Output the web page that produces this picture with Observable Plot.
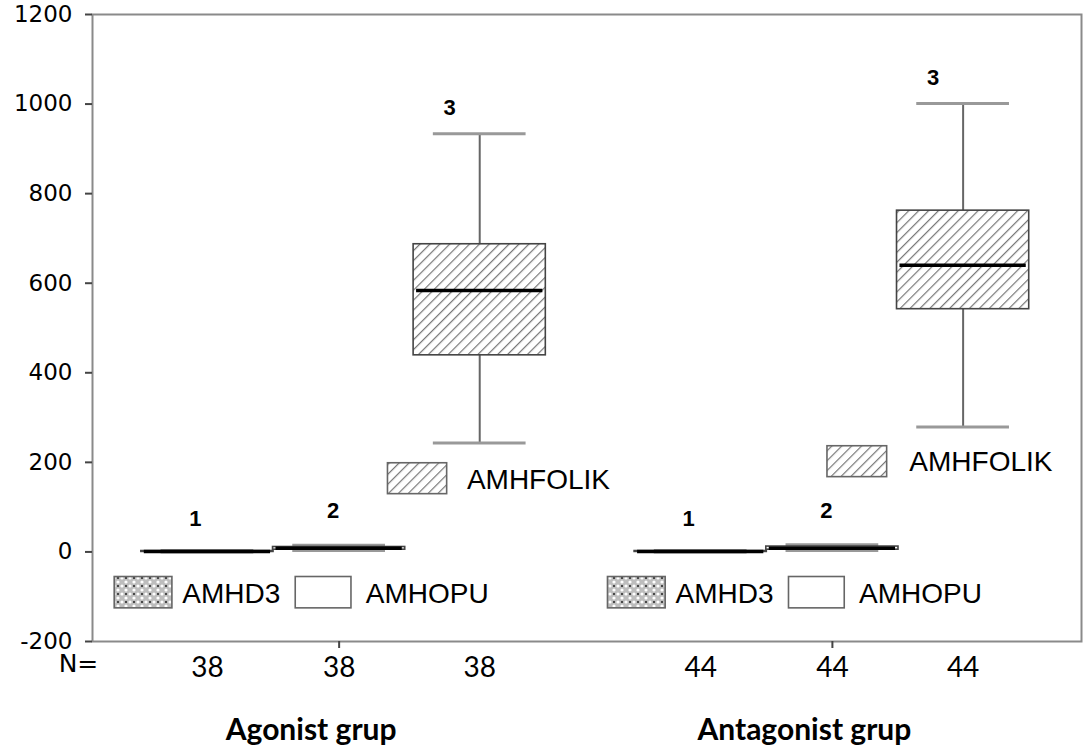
<!DOCTYPE html>
<html>
<head>
<meta charset="utf-8">
<script src="https://cdn.jsdelivr.net/npm/d3@7"></script>
<script src="https://cdn.jsdelivr.net/npm/@observablehq/plot@0.6"></script>
<style>
  html, body { margin: 0; padding: 0; background: #fff; }
  #chart svg { display: block; }
</style>
</head>
<body>
<div id="chart"></div>
<script>
// ---- data ----
const groupNames = ["Agonist grup", "Antagonist grup"];
const seriesNames = ["AMHD3", "AMHOPU", "AMHFOLIK"];
const boxLabels = ["1", "2", "3"];
const nCounts = [38, 44];
// per group: [AMHD3, AMHOPU, AMHFOLIK]
const lowWhisker  = [[0, 3, 243], [0, 3, 279]];
const q1Values    = [[0, 5, 439], [0, 5, 542]];
const medianVals  = [[1, 8, 584], [1, 8, 640]];
const q3Values    = [[2, 11, 687], [2, 12, 762]];
const highWhisker = [[3, 15, 934], [3, 16, 1001]];
const yTicks = [-200, 0, 200, 400, 600, 800, 1000, 1200];

// ---- layout (positions in x-scale units relative to each group centre) ----
const seriesOffset = [[-0.267, 0, 0.285], [-0.267, 0, 0.265]];
const boxHalf = 0.134, capHalf = 0.094;
const labelDx = [-12, -6, -30];
const labelDy = [-32, -34, -26];
const legendLower = [
  {series: "AMHD3", x1: -0.455, x2: -0.338, tx: -0.318},
  {series: "AMHOPU", x1: -0.088, x2: 0.025, tx: 0.054}
];
const legendLowerY = [-56, -126, -95];
const legendFolik = [
  {x1: 0.099, x2: 0.219, tx: 0.259, y1: 198, y2: 129, ty: 160},
  {x1: -0.010, x2: 0.111, tx: 0.156, y1: 236, y2: 167, ty: 201}
];
const fills = {AMHD3: "url(#checker)", AMHOPU: "#ffffff", AMHFOLIK: "url(#hatch)"};

const rows = [];
groupNames.forEach((g, gi) => {
  seriesNames.forEach((s, si) => {
    rows.push({
      group: g, gi, series: s, si, label: boxLabels[si], n: nCounts[gi],
      x: gi + 1 + seriesOffset[gi][si],
      lo: lowWhisker[gi][si], q1: q1Values[gi][si], med: medianVals[gi][si],
      q3: q3Values[gi][si], hi: highWhisker[gi][si]
    });
  });
});

const legendRows = [];
groupNames.forEach((g, gi) => {
  legendLower.forEach(l => legendRows.push({
    series: l.series, x1: gi + 1 + l.x1, x2: gi + 1 + l.x2, tx: gi + 1 + l.tx,
    y1: legendLowerY[0], y2: legendLowerY[1], ty: legendLowerY[2]
  }));
  const f = legendFolik[gi];
  legendRows.push({series: "AMHFOLIK", x1: gi + 1 + f.x1, x2: gi + 1 + f.x2, tx: gi + 1 + f.tx,
    y1: f.y1, y2: f.y2, ty: f.ty});
});

const boxMarks = seriesNames.map(s => Plot.rect(rows.filter(r => r.series === s), {
  x1: r => r.x - boxHalf, x2: r => r.x + boxHalf, y1: "q1", y2: "q3",
  fill: fills[s], stroke: "#444", strokeWidth: 1.6
}));
const legendMarks = seriesNames.map(s => Plot.rect(legendRows.filter(r => r.series === s), {
  x1: "x1", x2: "x2", y1: "y1", y2: "y2", fill: fills[s], stroke: "#666", strokeWidth: 1.6
}));
const labelMarks = seriesNames.map((s, si) => Plot.text(rows.filter(r => r.series === s), {
  x: "x", y: "hi", text: "label", dx: labelDx[si], dy: labelDy[si],
  fontSize: 22, fontWeight: "bold"
}));

const chart = Plot.plot({
  width: 1086,
  height: 753,
  marginLeft: 92,
  marginRight: 5,
  marginTop: 14,
  marginBottom: 112,
  style: {fontFamily: "Liberation Sans, Arial, sans-serif", color: "#000", background: "#fff"},
  x: {domain: [0.5, 2.505], axis: null},
  y: {domain: [-200, 1200], axis: null},
  marks: [
    Plot.frame({stroke: "#8a8a8a", strokeWidth: 2}),
    Plot.axisY({ticks: yTicks, tickFormat: d => String(d), tickSize: 7, tickPadding: 13, fontSize: 23,
      fontFamily: "DejaVu Sans", stroke: "#444", strokeWidth: 2, label: null}),
    Plot.axisX({ticks: [1, 2], tickFormat: () => "", tickSize: 7, stroke: "#444", strokeWidth: 2, label: null}),
    Plot.text(groupNames, {x: (d, i) => i + 1, y: () => -200, text: d => d, dx: -28, dy: 89,
      fontSize: 30, fontWeight: "bold", fontFamily: "Lato"}),
    // whiskers
    Plot.ruleX(rows, {x: "x", y1: "q3", y2: "hi", stroke: "#666", strokeWidth: 2}),
    Plot.ruleX(rows, {x: "x", y1: "lo", y2: "q1", stroke: "#666", strokeWidth: 2}),
    Plot.ruleY(rows, {x1: r => r.x - capHalf, x2: r => r.x + capHalf, y: "hi", stroke: "#999", strokeWidth: 3}),
    Plot.ruleY(rows, {x1: r => r.x - capHalf, x2: r => r.x + capHalf, y: "lo", stroke: "#999", strokeWidth: 3}),
    ...boxMarks,
    Plot.ruleY(rows, {x1: r => r.x - boxHalf + 0.006, x2: r => r.x + boxHalf - 0.006, y: "med", stroke: "#000", strokeWidth: 3.5}),
    // box numbers
    ...labelMarks,
    // N counts
    Plot.text(rows, {x: "x", y: () => -200, text: r => String(r.n), dy: 27, fontSize: 28, fontFamily: "Lato"}),
    Plot.text(["N="], {x: () => 0.5, y: () => -200, text: d => d, dx: -14, dy: 22, fontSize: 25, fontFamily: "DejaVu Sans"}),
    // legends
    ...legendMarks,
    Plot.text(legendRows, {x: "tx", y: "ty", text: "series", textAnchor: "start", fontSize: 28})
  ]
});

// pattern definitions for the fills
const ns = "http://www.w3.org/2000/svg";
const defs = document.createElementNS(ns, "defs");
defs.innerHTML = `
  <pattern id="hatch" patternUnits="userSpaceOnUse" width="7" height="7" patternTransform="rotate(45)">
    <rect width="7" height="7" fill="#fff"/>
    <line x1="0" y1="0" x2="0" y2="7" stroke="#777" stroke-width="2.4"/>
  </pattern>
  <pattern id="checker" patternUnits="userSpaceOnUse" width="8" height="8">
    <rect width="8" height="8" fill="#bdbdbd"/>
    <circle cx="2" cy="2" r="1.6" fill="#fff"/>
    <circle cx="6" cy="6" r="1.6" fill="#fff"/>
    <circle cx="6" cy="2" r="1" fill="#222"/>
  </pattern>`;
chart.insertBefore(defs, chart.firstChild);
document.getElementById("chart").appendChild(chart);
</script>
</body>
</html>
